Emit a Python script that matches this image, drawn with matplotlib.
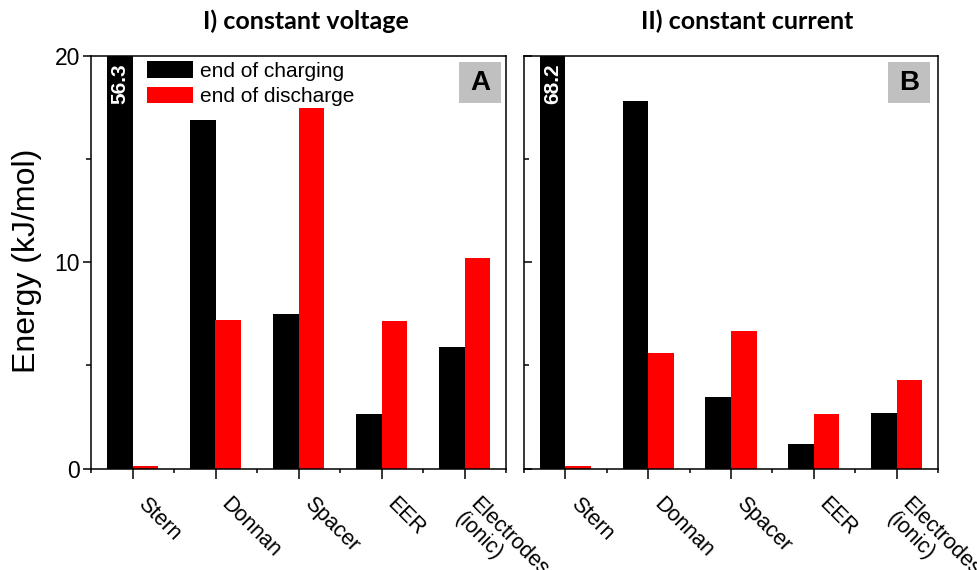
import matplotlib
matplotlib.use("Agg")
import matplotlib.pyplot as plt
from matplotlib.patches import Patch, Rectangle
from matplotlib.ticker import MultipleLocator, FixedLocator
import matplotlib.transforms as mtransforms
import numpy as np

categories = ["Stern", "Donnan", "Spacer", "EER", "Electrodes\n(ionic)"]
cv_charging = [56.3, 16.9, 7.49, 2.64, 5.89]
cv_discharge = [0.12, 7.2, 17.46, 7.15, 10.19]
cc_charging = [68.2, 17.8, 3.47, 1.19, 2.69]
cc_discharge = [0.1, 5.58, 6.68, 2.63, 4.29]
titles = ["I) constant voltage", "II) constant current"]
panel_tags = ["A", "B"]
series_names = ["end of charging", "end of discharge"]
ylabel = "Energy (kJ/mol)"

FONT = "Liberation Sans"
plt.rcParams["font.family"] = [FONT, "DejaVu Sans"]

W, H = 977, 570
fig = plt.figure(figsize=(W / 100, H / 100), dpi=100)

def fx(px):
    return px / W

def fy(py):
    return (H - py) / H

ax_bottom = fy(468.5)
ax_h = (468.5 - 55.7) / H
axL = fig.add_axes([fx(91), ax_bottom, fx(506) - fx(91), ax_h])
axR = fig.add_axes([fx(524), ax_bottom, fx(938) - fx(524), ax_h])

x = np.arange(1, len(categories) + 1)
bw = 0.31
data = [(cv_charging, cv_discharge), (cc_charging, cc_discharge)]
shift = mtransforms.ScaledTranslation(16 / 100, 0, fig.dpi_scale_trans)

for i, (ax, (ch, dis)) in enumerate(zip([axL, axR], data)):
    ax.bar(x - bw / 2, ch, width=bw, color="black", linewidth=0)
    ax.bar(x + bw / 2, dis, width=bw, color="#ff0000", linewidth=0)
    ax.set_xlim(0.5, 5.5)
    ax.set_ylim(0, 20)
    ax.xaxis.set_minor_locator(FixedLocator(np.arange(0.5, 6.0, 1.0)))
    ax.yaxis.set_major_locator(MultipleLocator(10))
    ax.yaxis.set_minor_locator(MultipleLocator(5))
    for s in ax.spines.values():
        s.set_linewidth(1.1)
    ax.tick_params(axis="x", which="major", direction="out", length=7, width=1.1, pad=11)
    ax.tick_params(axis="x", which="minor", direction="out", length=3, width=1.1)
    if i == 0:
        ax.tick_params(axis="y", which="major", direction="out", length=6, width=1.1,
                       labelsize=16.5, pad=2)
        ax.tick_params(axis="y", which="minor", direction="out", length=3.5, width=1.1)
    else:
        ax.tick_params(axis="y", which="major", direction="in", length=6, width=1.1,
                       labelleft=False)
        ax.tick_params(axis="y", which="minor", direction="in", length=3.5, width=1.1)
    ax.set_xticks(x)
    ax.set_xticklabels(categories, rotation=-45, rotation_mode="anchor",
                       ha="left", va="top", fontsize=15.5, linespacing=1.0)
    for tick in ax.xaxis.get_major_ticks():
        tick.label1.set_transform(tick.label1.get_transform() + shift)
    # clipped value label for the Stern charging bar
    ax.text(1 - bw / 2, 18.65, f"{ch[0]:.1f}", rotation=90, color="white",
            fontsize=15, fontweight="bold", ha="center", va="center")
    # panel tag box
    bx0 = (459 - 91) / 415 if i == 0 else (888 - 524) / 414
    bx1 = (501 - 91) / 415 if i == 0 else (930 - 524) / 414
    by0 = (468.5 - 103.5) / 412.8
    by1 = (468.5 - 62) / 412.8
    ax.add_patch(Rectangle((bx0, by0), bx1 - bx0, by1 - by0, transform=ax.transAxes,
                           facecolor="#c0c0c0", edgecolor="none", zorder=3))
    ax.text((bx0 + bx1) / 2, (by0 + by1) / 2, panel_tags[i], transform=ax.transAxes,
            fontsize=20, fontweight="bold", ha="center", va="center", zorder=4)

handles = [Patch(facecolor="black", edgecolor="none"),
           Patch(facecolor="#ff0000", edgecolor="none")]
axL.legend(handles, series_names, loc="upper left",
           bbox_to_anchor=((147 - 91) / 415, (468.5 - 61) / 412.8),
           frameon=False, fontsize=15, borderpad=0, borderaxespad=0,
           handlelength=2.2, handleheight=0.85, handletextpad=0.35,
           labelspacing=0.3)

fig.text(fx(306), fy(29), titles[0], fontsize=18, fontweight="bold",
         family=["Lato", "DejaVu Sans"], ha="center", va="baseline")
fig.text(fx(747), fy(29), titles[1], fontsize=18, fontweight="bold",
         family=["Lato", "DejaVu Sans"], ha="center", va="baseline")

fig.text(fx(35.5), fy(261), ylabel, fontsize=23, rotation=90,
         rotation_mode="anchor", ha="center", va="baseline")

fig.savefig("out.png", dpi=100)
